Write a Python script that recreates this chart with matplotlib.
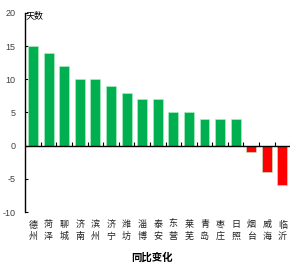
import matplotlib
matplotlib.use("Agg")
import matplotlib.pyplot as plt
import numpy as np

plt.rcParams['font.family'] = ['Noto Sans CJK SC', 'DejaVu Sans']

cities = ["德州", "菏泽", "聊城", "济南", "滨州", "济宁", "潍坊", "淄博", "泰安",
          "东营", "莱芜", "青岛", "枣庄", "日照", "烟台", "威海", "临沂"]
values = [15, 14, 12, 10, 10, 9, 8, 7, 7, 5, 5, 4, 4, 4, -1, -4, -6]
yticks = [-10, -5, 0, 5, 10, 15, 20]

fig = plt.figure(figsize=(3.03, 2.65), dpi=100)
ax = fig.add_axes([0.083, 0.2, 0.875, 0.751])

x = np.arange(len(cities))
colors = ['#00B050' if v >= 0 else '#FF0000' for v in values]
ax.bar(x, values, width=0.64, color=colors, edgecolor='#b8f0c8', linewidth=0.4, zorder=2)

ax.set_xlim(-0.5, len(cities) - 0.5)
ax.set_ylim(-10, 20)
ax.set_yticks(yticks)
ax.set_yticklabels([str(t) for t in yticks], fontsize=6.5, color='#404040', family='Liberation Sans')
ax.tick_params(axis='y', direction='in', length=2.5, width=0.8, pad=7)

for s in ['top', 'right', 'bottom']:
    ax.spines[s].set_visible(False)
ax.spines['left'].set_linewidth(1.0)

ax.axhline(0, color='black', lw=1.0, zorder=3)
ax.vlines(np.arange(len(cities) + 1) - 0.5, 0, 0.5, color='black', lw=0.8, zorder=3)

ax.set_xticks(x)
ax.set_xticklabels(["\n".join(c) for c in cities], fontsize=6.5, linespacing=1.35, color='#202020')
ax.tick_params(axis='x', length=0, pad=6)

ax.text(-0.45, 19.6, "天数", fontsize=6.5, va='center', ha='left', zorder=4)

fig.text(0.5, 0.03, "同比变化", ha='center', va='center', fontsize=7.5, fontweight='bold')

fig.savefig("out.png", dpi=100)
